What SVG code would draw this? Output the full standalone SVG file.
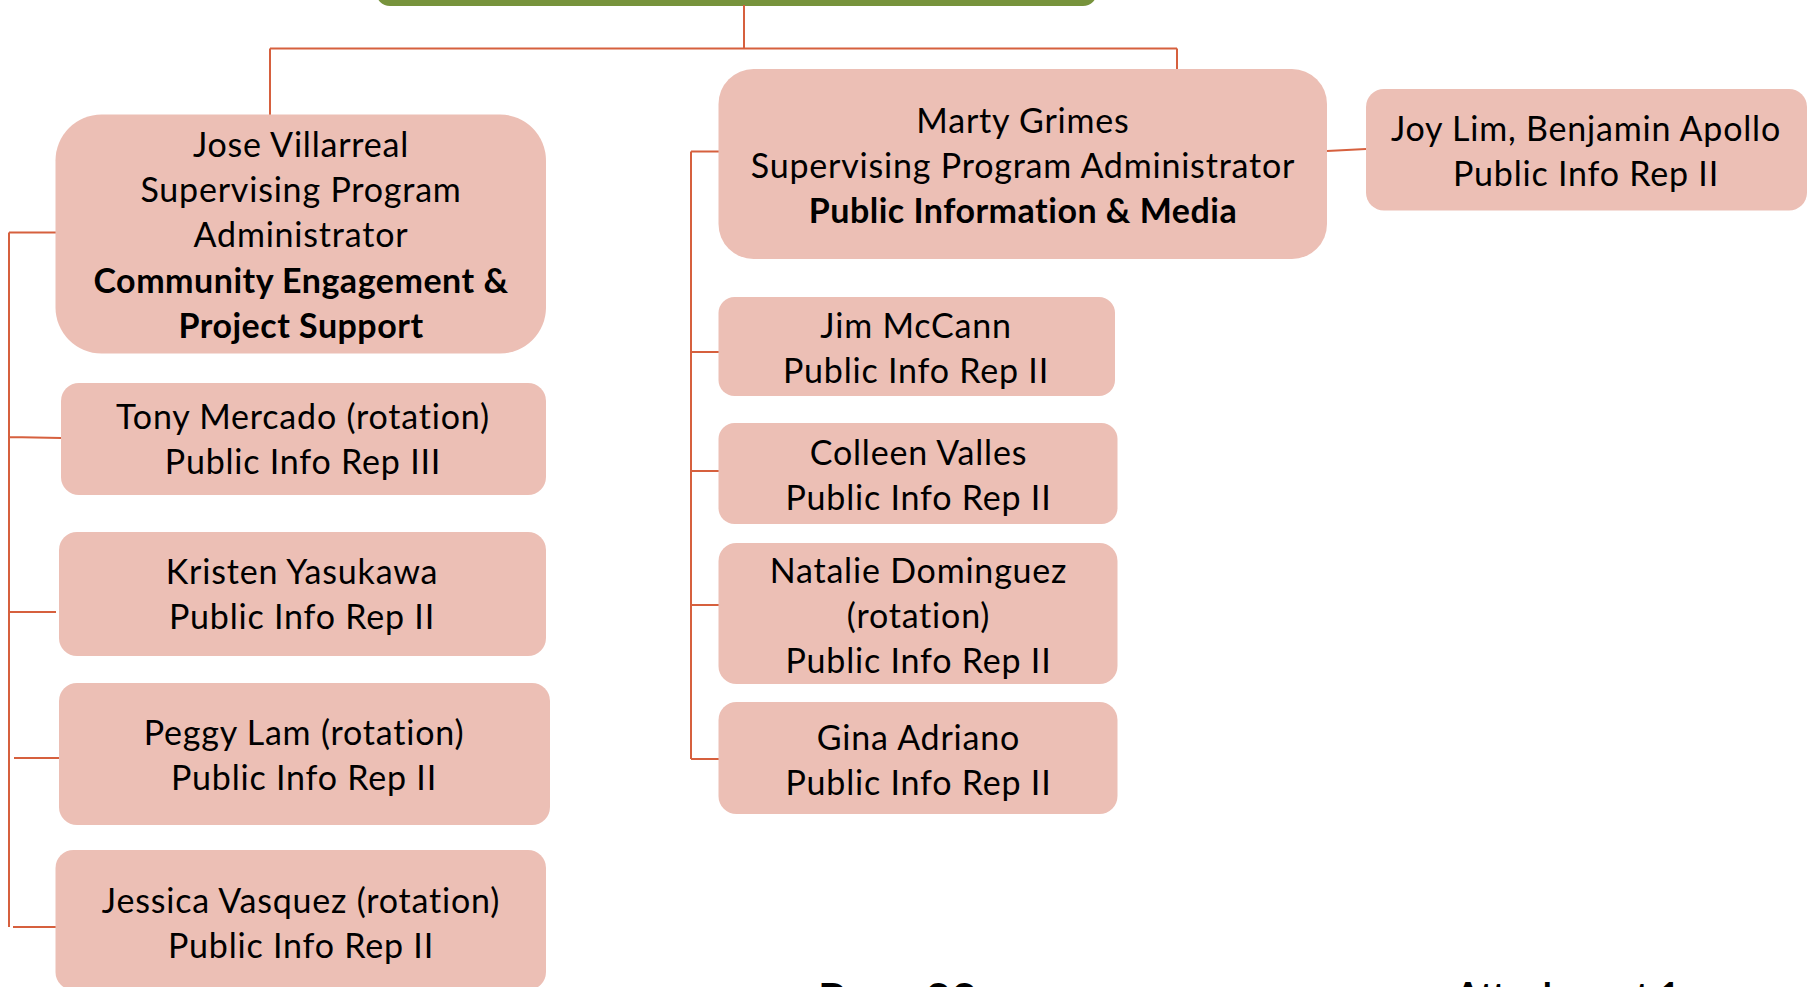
<svg xmlns="http://www.w3.org/2000/svg" width="1814" height="987" viewBox="0 0 1814 987">
<style>
.box{fill:#ECBFB5;}
.top{fill:#77933C;}
.c{stroke:#D6603E;stroke-width:2;fill:none;}
text{font-family:Lato,"Noto Sans","Liberation Sans",sans-serif;font-size:34px;fill:#000;text-anchor:middle;letter-spacing:0.8px;}
.b{font-weight:bold;letter-spacing:0.5px;}
.foot{font-weight:bold;text-anchor:start;letter-spacing:0;}
</style>
<rect width="1814" height="987" fill="#fff"/>
<g id="top"><rect class="top" x="376" y="-40" width="721" height="46" rx="14"/></g>
<g id="connectors">
<path class="c" d="M744 5V48.6M270 48.6H1177M270 48.6V115M1177 48.6V69"/>
<path class="c" d="M9 232.5V927M9 232.5H56M9 437L61 438M9 612H56M14 758H59M13 927H56"/>
<path class="c" d="M691 151.5V759M691 151.5H719M691 352H719M691 471H719M691 605H719M691 759H719"/>
<path class="c" d="M1327 151L1366 149"/>
</g>
<g id="jose"><rect class="box" x="55.5" y="114.5" width="490.5" height="239" rx="46"/>
<text x="301" y="157">Jose Villarreal</text>
<text x="301" y="202">Supervising Program</text>
<text x="301" y="247">Administrator</text>
<text class="b" x="301" y="292.5">Community Engagement &amp;</text>
<text class="b" x="301" y="337.5">Project Support</text></g>
<g id="tony"><rect class="box" x="61" y="383" width="485" height="112" rx="18"/>
<text x="303" y="429">Tony Mercado (rotation)</text>
<text x="303" y="474">Public Info Rep III</text></g>
<g id="kristen"><rect class="box" x="59" y="532" width="487" height="124" rx="18"/>
<text x="302" y="584">Kristen Yasukawa</text>
<text x="302" y="629">Public Info Rep II</text></g>
<g id="peggy"><rect class="box" x="59" y="683" width="491" height="142" rx="18"/>
<text x="304" y="745">Peggy Lam (rotation)</text>
<text x="304" y="790">Public Info Rep II</text></g>
<g id="jessica"><rect class="box" x="55.5" y="850" width="490.5" height="140" rx="18"/>
<text x="301" y="912.5">Jessica Vasquez (rotation)</text>
<text x="301" y="958">Public Info Rep II</text></g>
<g id="marty"><rect class="box" x="718.5" y="69" width="608.5" height="190" rx="35"/>
<text x="1023" y="133">Marty Grimes</text>
<text x="1023" y="178">Supervising Program Administrator</text>
<text class="b" x="1023" y="223">Public Information &amp; Media</text></g>
<g id="joy"><rect class="box" x="1366" y="89" width="441" height="121.5" rx="18"/>
<text x="1586" y="141">Joy Lim, Benjamin Apollo</text>
<text x="1586" y="186">Public Info Rep II</text></g>
<g id="jim"><rect class="box" x="718.5" y="297" width="396.5" height="99" rx="16"/>
<text x="916" y="337.5">Jim McCann</text>
<text x="916" y="382.5">Public Info Rep II</text></g>
<g id="colleen"><rect class="box" x="718.5" y="423" width="399" height="101" rx="16"/>
<text x="918.5" y="465">Colleen Valles</text>
<text x="918.5" y="510">Public Info Rep II</text></g>
<g id="natalie"><rect class="box" x="718.5" y="543" width="399" height="141" rx="18"/>
<text x="918.5" y="583">Natalie Dominguez</text>
<text x="918.5" y="628">(rotation)</text>
<text x="918.5" y="673">Public Info Rep II</text></g>
<g id="gina"><rect class="box" x="718.5" y="702" width="399" height="112" rx="18"/>
<text x="918.5" y="749.5">Gina Adriano</text>
<text x="918.5" y="794.5">Public Info Rep II</text></g>
<g id="footer">
<text class="foot" x="818" y="1016" style="font-size:46px" textLength="159" lengthAdjust="spacingAndGlyphs">Page 22</text>
<text class="foot" x="1455" y="1010" style="font-size:38px" textLength="225" lengthAdjust="spacingAndGlyphs">Attachment 1</text>
</g>
</svg>
